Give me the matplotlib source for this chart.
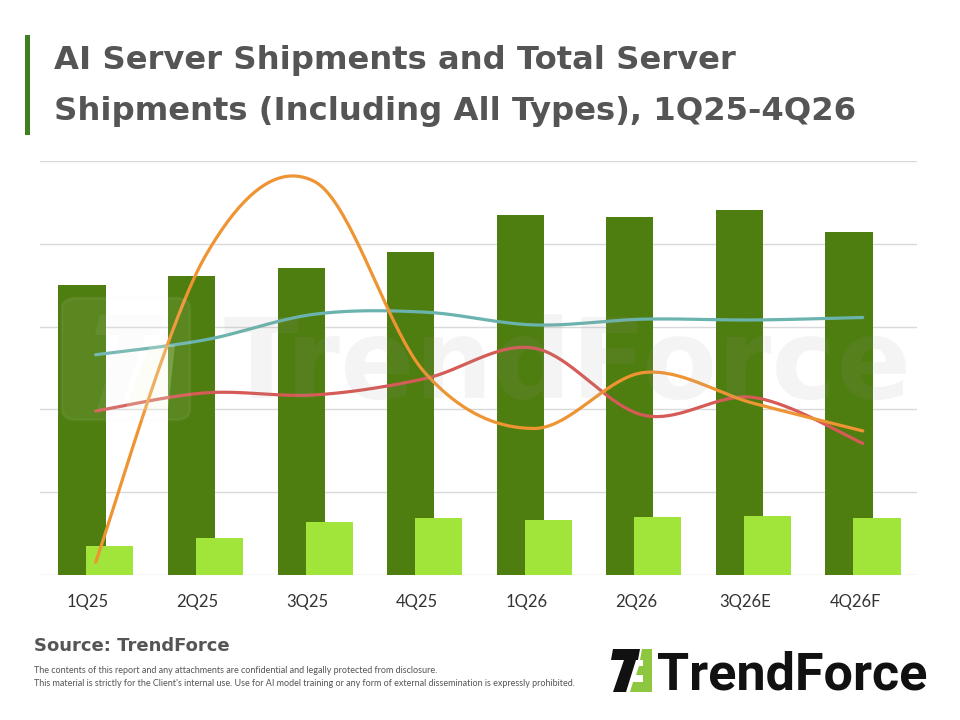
import numpy as np
import matplotlib
matplotlib.use("Agg")
import matplotlib.pyplot as plt
from matplotlib.patches import Polygon, FancyBboxPatch, Rectangle

# ---------------- data ----------------
categories = ['1Q25', '2Q25', '3Q25', '4Q25', '1Q26', '2Q26', '3Q26E', '4Q26F']
total_servers = [70.0, 72.2, 74.2, 78.0, 87.0, 86.5, 88.2, 82.9]
ai_servers = [7.0, 8.9, 12.8, 13.8, 13.3, 14.0, 14.3, 13.8]
line_teal = [53.2, 56.8, 63.0, 63.5, 60.4, 61.8, 61.6, 62.2]
line_red = [39.6, 44.0, 43.5, 47.4, 54.8, 38.6, 42.9, 31.8]
line_orange = [3.1, 77.0, 95.0, 49.0, 35.4, 48.9, 41.5, 34.8]

DARK = '#4E7E0F'
LIGHT = '#A2E53A'
TEAL = '#6BB3AE'
RED = '#D65A56'
ORANGE = '#EF9433'

W, H = 960, 720


def P(x, y):
    return (x / W, 1 - y / H)


def smooth(xs, ys, n=40):
    pts = np.column_stack([xs, ys]).astype(float)
    N = len(pts)
    out = []
    t = np.linspace(0, 1, n)[:, None]
    for i in range(N - 1):
        p0 = pts[i - 1] if i > 0 else pts[i]
        p1, p2 = pts[i], pts[i + 1]
        p3 = pts[i + 2] if i + 2 < N else pts[i + 1]
        c1 = p1 + (p2 - p0) / 6
        c2 = p2 - (p3 - p1) / 6
        seg = (1 - t) ** 3 * p1 + 3 * (1 - t) ** 2 * t * c1 + 3 * (1 - t) * t ** 2 * c2 + t ** 3 * p2
        out.append(seg if i == 0 else seg[1:])
    return np.vstack(out)


fig = plt.figure(figsize=(9.6, 7.2), dpi=100)
fig.patch.set_facecolor('white')

# axes placement
ax_l, ax_r, ax_t, ax_b = 40, 917, 161, 575
ax = fig.add_axes([ax_l / W, 1 - ax_b / H, (ax_r - ax_l) / W, (ax_b - ax_t) / H])
ax.set_facecolor('none')

x = np.arange(len(categories))
bw = 0.43
ax.bar(x - 0.055, total_servers, width=bw, color=DARK, zorder=2)
ax.bar(x + 0.2, ai_servers, width=bw, color=LIGHT, zorder=2.2)

xl = x + 0.07
for ys, c in [(line_teal, TEAL), (line_red, RED), (line_orange, ORANGE)]:
    s = smooth(xl, ys)
    ax.plot(s[:, 0], s[:, 1], color=c, lw=2.3, zorder=4, solid_capstyle='round')

ax.set_xlim(-0.438, 7.565)
ax.set_ylim(0, 100)
ax.set_yticks([0, 20, 40, 60, 80, 100])
ax.set_yticklabels([])
ax.tick_params(axis='y', length=0)
ax.grid(axis='y', color='#D9D9D9', lw=1.0, zorder=0)
ax.set_axisbelow(True)
for sp in ax.spines.values():
    sp.set_visible(False)
ax.set_xticks(x)
ax.set_xticklabels(categories, fontsize=12, color='#333333', family='Lato')
ax.tick_params(axis='x', length=0, pad=14)

# watermark (inside plot)
fig.text(*P(224, 398), 'TrendForce', fontsize=79, fontweight='bold',
         family='DejaVu Sans', color='#999999', alpha=0.10, zorder=3,
         ha='left', va='baseline')
box = FancyBboxPatch(P(62, 420), 128 / W, 122 / H, boxstyle='round,pad=0,rounding_size=0.015',
                     transform=fig.transFigure, facecolor='white', alpha=0.07,
                     edgecolor='#E4E4E4', lw=2, zorder=3)
fig.patches.append(box)
fig.patches.append(Polygon([P(100, 315), P(165, 315), P(158, 335), P(95, 335)], closed=True,
                           transform=fig.transFigure, facecolor='#E0E0E0', alpha=0.08, zorder=3))
fig.patches.append(Polygon([P(120, 335), P(145, 335), P(120, 410), P(97, 410)], closed=True,
                           transform=fig.transFigure, facecolor='#E0E0E0', alpha=0.08, zorder=3))
fig.patches.append(Polygon([P(150, 345), P(175, 345), P(168, 410), P(125, 410)], closed=True,
                           transform=fig.transFigure, facecolor='#EEF7D8', alpha=0.22, zorder=3))

# title
fig.patches.append(Rectangle(P(25, 135), 5 / W, 100 / H, transform=fig.transFigure,
                             facecolor='#3F7F1F', edgecolor='none'))
fig.text(*P(54, 69), 'AI Server Shipments and Total Server', fontsize=23.2, fontweight='bold',
         family='DejaVu Sans', color='#555555', ha='left', va='baseline')
fig.text(*P(54, 120), 'Shipments (Including All Types), 1Q25-4Q26', fontsize=23.2, fontweight='bold',
         family='DejaVu Sans', color='#555555', ha='left', va='baseline')

# source + disclaimer
fig.text(*P(34, 651), 'Source: TrendForce', fontsize=13, color='#555555', family='DejaVu Sans',
         fontweight='bold', ha='left', va='baseline')
fig.text(*P(34, 673), 'The contents of this report and any attachments are confidential and legally protected from disclosure.',
         fontsize=6.5, color='#555555', family='Lato', ha='left', va='baseline')
fig.text(*P(34, 686), "This material is strictly for the Client's internal use. Use for AI model training or any form of external dissemination is expressly prohibited.",
         fontsize=6.5, color='#555555', family='Lato', ha='left', va='baseline')

# logo
fig.patches.append(Polygon([P(613, 649), P(640, 649), P(638, 660), P(611, 660)], closed=True,
                           transform=fig.transFigure, facecolor='#111111'))
fig.patches.append(Polygon([P(624, 660), P(636, 660), P(626, 692), P(613, 692)], closed=True,
                           transform=fig.transFigure, facecolor='#111111'))
fig.patches.append(Polygon([P(642, 649), P(652, 649), P(652, 692), P(630, 692), P(633, 682),
                            P(643, 682), P(643, 675), P(636, 675), P(639, 666), P(643, 666),
                            P(643, 660), P(640, 660)], closed=True,
                           transform=fig.transFigure, facecolor='#8DC63F'))
fig.text(*P(657, 689), 'TrendForce', fontsize=37.5, fontweight='bold', family='Roboto',
         color='#111111', ha='left', va='baseline')

fig.savefig('out.png', dpi=100)
